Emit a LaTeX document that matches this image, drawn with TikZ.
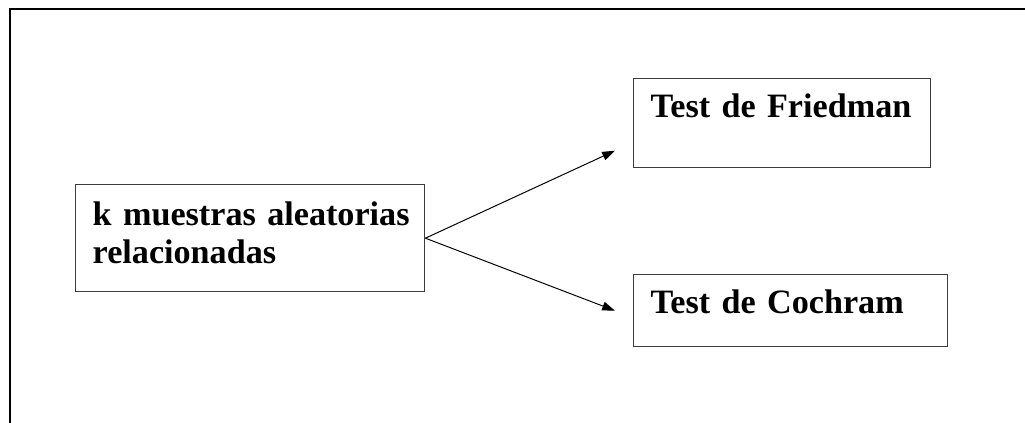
\documentclass[tikz,border=0pt]{standalone}
\usepackage{fontspec}
\setmainfont{Liberation Serif}
\usetikzlibrary{arrows.meta,positioning}
\definecolor{boxgray}{RGB}{60,60,60}

\begin{document}
\begin{tikzpicture}[
    box/.style={rectangle, draw=boxgray, line width=1pt, anchor=north west, inner xsep=0.425cm, inner ysep=0pt, align=left, font=\fontsize{24.3}{27}\selectfont\bfseries},
    arrow/.style={-{Triangle[length=0.32cm,width=0.22cm]}, line width=0.7pt, black}
]
\useasboundingbox (0,0) rectangle (25.625,10.575);

% open frame (top and left only)
\draw[line width=1.4pt] (0.25,0) -- (0.25,10.35) -- (25.625,10.35);

% boxes
\node[box, text width=7.875cm, text height=1.025cm, text depth=1.65cm] (muestras) at (1.875,5.975) {\mbox{k muestras aleatorias}\\relacionadas};
\node[box, text width=6.575cm, text height=0.975cm, text depth=1.25cm] (friedman) at (15.825,8.625) {Test de Friedman};
\node[box, text width=7.0cm, text height=0.975cm, text depth=0.825cm] (cochram) at (15.825,3.725) {Test de Cochram};

% arrows
\coordinate (tipF) at ([xshift=-0.45cm, yshift=-0.6875cm]friedman.west);
\coordinate (tipC) at ([xshift=-0.45cm]cochram.west);
\draw[arrow] (muestras.east) -- (tipF);
\draw[arrow] (muestras.east) -- (tipC);

\end{tikzpicture}
\end{document}
